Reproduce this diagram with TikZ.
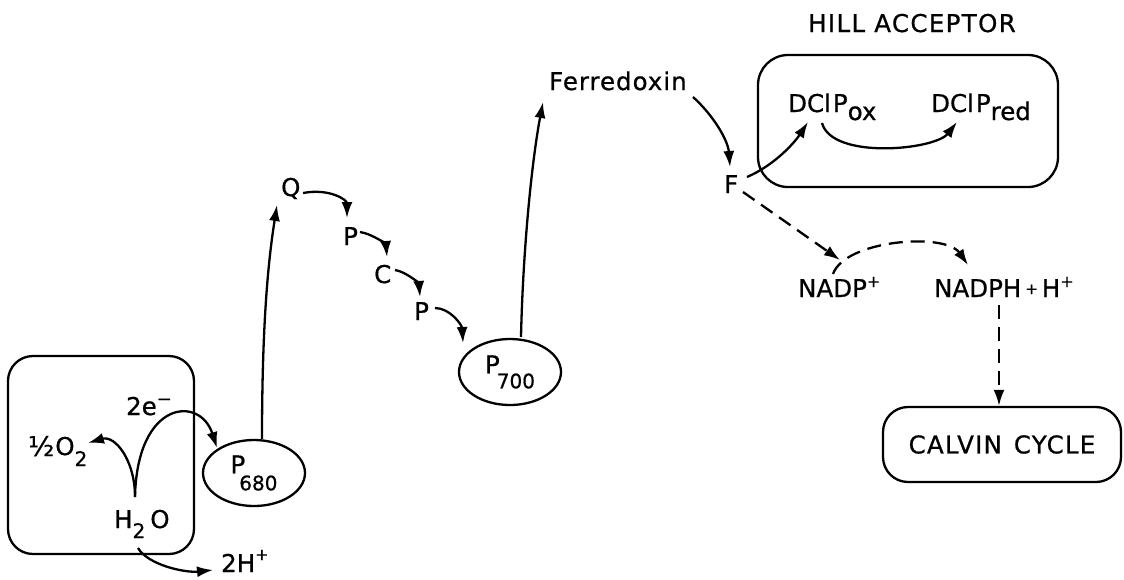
\documentclass[tikz,border=0pt]{standalone}
\usepackage{fontspec}
\setmainfont{DejaVu Sans}
\newfontfamily\lett{DejaVu Sans}[FakeBold=0.7]
\usetikzlibrary{arrows.meta,shapes.geometric,calc}
\newcommand\lowr[3]{\raisebox{#1}{\fontsize{#2}{#2}\selectfont #3}}
\begin{document}
\begin{tikzpicture}[x=1pt,y=-1pt,line width=2.3pt,
  txt/.style={inner sep=0pt,anchor=base west,font=\lett\fontsize{24.5}{26}\selectfont},
  conn/.style={-{Latex[length=16pt,width=11pt]}},
  dconn/.style={conn,dash pattern=on 14pt off 8pt},
  rbox/.style={draw,rectangle,inner sep=0pt,line width=2.3pt},
  oval/.style={draw,ellipse,inner sep=0pt,minimum width=102pt,minimum height=66pt,font=\lett\fontsize{24.5}{26}\selectfont}]
\useasboundingbox (0,0) rectangle (1124,579);
% boxes
\node[rbox,rounded corners=25pt,minimum width=186pt,minimum height=198pt] (wbox) at (101,455) {};
\node[rbox,rounded corners=30pt,minimum width=300pt,minimum height=132pt] (hbox) at (908,121) {};
\node[rbox,rounded corners=25pt,minimum width=238pt,minimum height=75pt,font=\lett\fontsize{24.5}{26}\selectfont\addfontfeature{LetterSpace=5}] (calvin) at (1002,444.5) {CALVIN\hspace{12pt}CYCLE};
% ellipses
\node[oval] (p680) at (254,473) {\raisebox{-6pt}{P\kern-6pt\lowr{-17pt}{20}{680}}};
\node[oval] (p700) at (510,372) {\raisebox{-2pt}{P\kern-3pt\lowr{-15pt}{20}{700}}};
% texts
\node[txt,font=\lett\fontsize{24.5}{26}\selectfont\addfontfeature{LetterSpace=5.5}] (hill) at (807,32) {HILL ACCEPTOR};
\node[txt,font=\lett\fontsize{24.5}{26}\selectfont\addfontfeature{LetterSpace=4}] (ferr) at (548,90) {Ferredoxin};
\node[txt] (ox) at (787,112) {DCl\kern2pt P\lowr{-8pt}{24.5}{ox}};
\node[txt] (red) at (930,112) {DCl\kern2pt P\lowr{-8pt}{24.5}{red}};
\node[txt] (f) at (723,193) {F};
\node[txt] (q) at (280,196) {Q};
\node[txt] (p1) at (342,245) {P};
\node[txt] (c) at (373,283) {C};
\node[txt] (p2) at (413,320) {P};
\node[txt] (nadp) at (797,297) {NADP\lowr{10pt}{16}{+}};
\node[txt] (nadph) at (933,297) {NADPH\kern4pt\lowr{3pt}{15}{+}\kern4pt H\lowr{10pt}{16}{+}};
\node[txt] (o2) at (27,455) {\lowr{-1pt}{27}{½}\kern1pt O\lowr{-11pt}{20}{2}};
\node[txt] (e2) at (125,415) {2e\lowr{10pt}{18}{−}};
\node[txt] (h2o) at (113,528) {H\lowr{-10pt}{20}{2}\kern5pt O};
\node[txt] (hp) at (220,572) {2H\lowr{12pt}{16}{+}};
% connectors
\draw[conn] ($(q.base west)+(23,-3)$) .. controls +(27,-5) and +(0,-18) .. ($(p1.base west)+(5,-27)$);
\draw[conn] ($(p1.base west)+(18,-13)$) .. controls +(13,2) and +(-1,-12) .. ($(c.base west)+(14,-26)$);
\draw[conn] ($(c.base west)+(22,-13)$) .. controls +(12,2) and +(-1,-13) .. ($(p2.base west)+(7,-23)$);
\draw[conn] ($(p2.base west)+(22,-12)$) .. controls +(15,0) and +(-1,-18) .. ($(p700.center)+(-47,-29)$);
\draw[conn] ($(p680.north)+(8,0)$) .. controls +(0,-130) and +(-7,45) .. ($(q.base west)+(-3,9)$);
\draw[conn] ($(p700.north)+(11,-1)$) .. controls +(2,-89) and +(-11,58) .. ($(ferr.base west)+(-5,12)$);
\draw[conn] ($(ferr.base west)+(145,7)$) .. controls +(20,18) and +(-2,-27) .. ($(f.base west)+(7,-26)$);
\draw[conn] ($(f.base west)+(24,-16)$) .. controls +(28,-12) and +(-13,20) .. ($(ox.base west)+(21,10)$);
\draw[conn] ($(ox.base west)+(35,11)$) .. controls +(10,37) and +(-22,28) .. ($(red.base west)+(27,10)$);
\draw[dconn] ($(f.base west)+(20,-1)$) -- ($(nadp.base west)+(43,-37)$);
\draw[dconn] ($(nadp.base west)+(36,-23)$) .. controls +(12,-34) and +(-23,-33) .. ($(nadph.base west)+(35,-32)$);
\draw[dconn] ($(nadph.base west)+(66,8)$) -- ($(calvin.north)+(-3,0)$);
\draw[conn] ($(h2o.base west)+(22,-31)$) .. controls +(0,-37) and +(27,-8) .. ($(o2.base west)+(61,-12)$);
\draw[conn] ($(h2o.base west)+(22,-31)$) .. controls +(2,-97) and +(-17,-53) .. ($(p680.center)+(-37,-25)$);
\draw[conn] ($(h2o.base west)+(25,20)$) .. controls +(10,17) and +(-28,3) .. ($(hp.base west)+(-7,-2)$);
\end{tikzpicture}
\end{document}
